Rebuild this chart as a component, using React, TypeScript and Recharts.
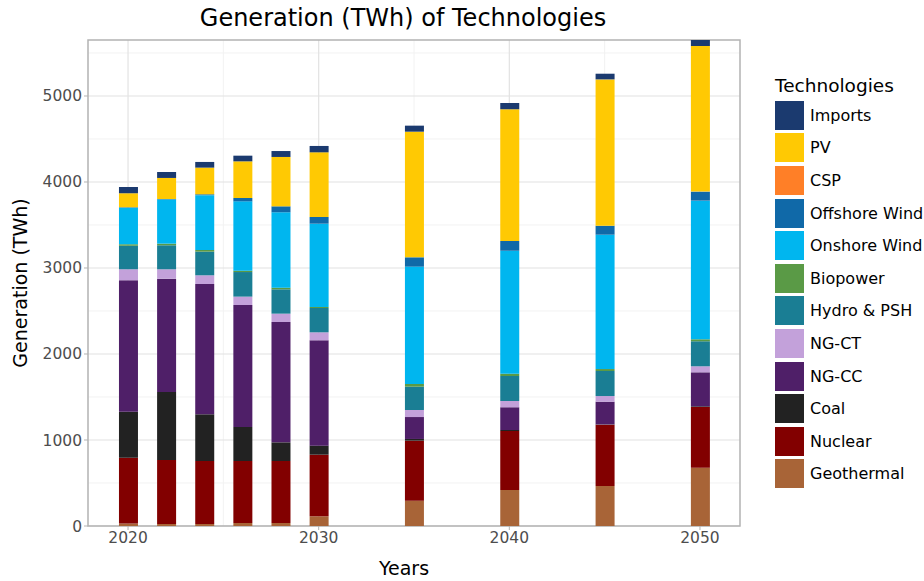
import React from 'react';
import { BarChart, Bar, XAxis, YAxis, CartesianGrid, ReferenceArea } from 'recharts';

const years = [2020, 2022, 2024, 2026, 2028, 2030, 2035, 2040, 2045, 2050];
const geothermal = [30, 23, 23, 35, 35, 113, 294, 419, 465, 678];
const nuclear = [764, 744, 733, 721, 721, 716, 698, 686, 713, 706];
const coal = [535, 791, 543, 395, 217, 105, 20, 11, 3, 8];
const ngcc = [1528, 1318, 1515, 1419, 1399, 1225, 255, 264, 264, 395];
const ngct = [128, 109, 101, 97, 97, 93, 82, 73, 66, 70];
const hydro = [275, 279, 275, 286, 283, 283, 271, 291, 291, 291];
const biopower = [15, 19, 19, 16, 19, 12, 31, 27, 23, 23];
const onshore = [425, 514, 638, 806, 877, 968, 1365, 1430, 1562, 1612];
const offshore = [5, 5, 10, 39, 69, 78, 108, 113, 104, 105];
const csp = [0, 0, 0, 0, 0, 0, 0, 0, 0, 0];
const pv = [164, 245, 310, 426, 574, 752, 1461, 1531, 1702, 1693];
const imports = [73, 69, 66, 66, 69, 74, 70, 74, 66, 70];

const xTicks = [2020, 2030, 2040, 2050];
const xMinor = [2025, 2035, 2045];
const yTicks = [0, 1000, 2000, 3000, 4000, 5000];
const yMinor = [500, 1500, 2500, 3500, 4500, 5500];

const series = [
  { key: 'Geothermal', values: geothermal, color: '#A86437' },
  { key: 'Nuclear', values: nuclear, color: '#820000' },
  { key: 'Coal', values: coal, color: '#222222' },
  { key: 'NG-CC', values: ngcc, color: '#4F1F68' },
  { key: 'NG-CT', values: ngct, color: '#C3A1DA' },
  { key: 'Hydro & PSH', values: hydro, color: '#1A7E94' },
  { key: 'Biopower', values: biopower, color: '#5A9A46' },
  { key: 'Onshore Wind', values: onshore, color: '#00B6EF' },
  { key: 'Offshore Wind', values: offshore, color: '#1069A8' },
  { key: 'CSP', values: csp, color: '#FF7F27' },
  { key: 'PV', values: pv, color: '#FFC903' },
  { key: 'Imports', values: imports, color: '#1B3A6F' },
];

const data = years.map((y, i) => {
  const row: Record<string, number> = { year: y };
  series.forEach((s) => {
    row[s.key] = s.values[i];
  });
  return row;
});

const FONT = '"DejaVu Sans", sans-serif';

export default function App() {
  const legendItems = [...series].reverse();
  return (
    <div style={{ position: 'absolute', left: 0, top: 0, width: 924, height: 581, background: '#fff', fontFamily: FONT }}>
      <div style={{ position: 'absolute', left: 0, width: 806, top: 3, textAlign: 'center', fontSize: 24, lineHeight: '30px', color: '#000' }}>
        Generation (TWh) of Technologies
      </div>
      <BarChart
        width={924}
        height={581}
        data={data}
        margin={{ top: 40, right: 184, bottom: 25, left: 38 }}
      >
        <CartesianGrid
          horizontalValues={yMinor}
          verticalValues={xMinor}
          stroke="#f2f2f2"
          strokeWidth={1}
        />
        <CartesianGrid
          horizontalValues={yTicks}
          verticalValues={xTicks}
          stroke="#e2e2e2"
          strokeWidth={1.2}
        />
        <XAxis
          dataKey="year"
          type="number"
          domain={[2017.9, 2052.1]}
          allowDataOverflow
          ticks={xTicks}
          height={30}
          axisLine={false}
          tickLine={{ stroke: '#b3b3b3' }}
          tickSize={4}
          tick={{ fill: '#4d4d4d', fontSize: 15.5, fontFamily: FONT }}
          label={{ value: 'Years', position: 'insideBottom', offset: -19, fill: '#000', fontSize: 19, fontFamily: FONT, dx: -10 }}
        />
        <YAxis
          type="number"
          domain={[0, 5651]}
          allowDataOverflow
          ticks={yTicks}
          width={50}
          axisLine={false}
          tickLine={{ stroke: '#b3b3b3' }}
          tickSize={4}
          tick={{ fill: '#4d4d4d', fontSize: 15.5, fontFamily: FONT }}
          label={{ value: 'Generation (TWh)', angle: -90, position: 'insideLeft', offset: -18, fill: '#000', fontSize: 19, fontFamily: FONT, style: { textAnchor: 'middle' } }}
        />
        {series.map((s) => (
          <Bar
            key={s.key}
            dataKey={s.key}
            stackId="a"
            fill={s.color}
            barSize={19}
            isAnimationActive={false}
          />
        ))}
        <ReferenceArea x1={2017.9} x2={2052.1} y1={0} y2={5651} fill="none" stroke="#b3b3b3" strokeWidth={1.5} />
      </BarChart>
      <div style={{ position: 'absolute', left: 775, top: 75 }}>
        <div style={{ fontSize: 18.5, color: '#000', marginBottom: 2, lineHeight: '22px' }}>Technologies</div>
        {legendItems.map((s) => (
          <div key={s.key} style={{ display: 'flex', alignItems: 'center', height: 32.6 }}>
            <div style={{ width: 29, height: 29, background: s.color }} />
            <span style={{ marginLeft: 6, fontSize: 16, color: '#000', whiteSpace: 'nowrap' }}>{s.key}</span>
          </div>
        ))}
      </div>
    </div>
  );
}
